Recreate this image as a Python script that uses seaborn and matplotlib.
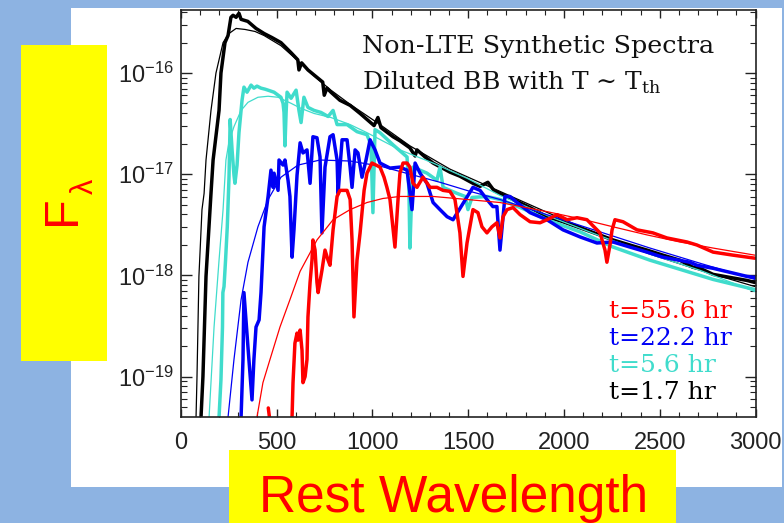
import numpy as np
import matplotlib
matplotlib.use("Agg")
import matplotlib.pyplot as plt
import seaborn as sns
from matplotlib.patches import Rectangle
from matplotlib.ticker import MultipleLocator, FixedLocator, NullFormatter, LogFormatterSciNotation

# ---------------- data: (rest wavelength [A], log10 F_lambda) ----------------
black_spec = [(106,-19.40),(116,-19.00),(132,-18.01),(158,-17.19),(169,-16.86),(200,-16.37),(210,-16.00),
              (231,-15.70),(247,-15.63),(262,-15.45),(273,-15.43),(289,-15.45),(304,-15.41),(315,-15.47),
              (350,-15.49),(393,-15.56),(435,-15.61),(476,-15.65),(523,-15.70),(576,-15.80),(611,-15.87),
              (617,-15.97),(631,-15.90),(664,-15.97),(696,-16.02),(741,-16.09),(749,-16.22),(763,-16.15),
              (784,-16.19),(831,-16.27),(884,-16.32),(936,-16.40),(1009,-16.52),(1029,-16.44),(1045,-16.54),
              (1108,-16.63),(1144,-16.67),(1196,-16.74),(1223,-16.82),(1233,-16.76),(1275,-16.83),(1317,-16.89),
              (1405,-16.98),(1457,-17.02),(1525,-17.09),(1562,-17.12),(1603,-17.08),(1634,-17.16),(1666,-17.19),
              (1734,-17.25),(1823,-17.33),(1911,-17.42),(1995,-17.47),(2084,-17.53),(2172,-17.59),(2256,-17.65),
              (2344,-17.70),(2433,-17.75),(2516,-17.80),(2605,-17.85),(2673,-17.92),(2710,-17.93),(2778,-17.99),
              (2866,-18.02),(2955,-18.05),(2996,-18.07)]
black_bb = [(80,-19.40),(85,-19.00),(95,-18.01),(111,-17.35),(122,-17.19),(132,-16.86),(158,-16.37),(184,-16.00),
            (221,-15.70),(252,-15.61),(289,-15.56),(336,-15.57),(388,-15.59),(435,-15.63),(523,-15.73),(612,-15.88),
            (696,-16.03),(784,-16.17),(884,-16.31),(1040,-16.51),(1196,-16.72),(1405,-16.95),(1666,-17.17),
            (1927,-17.39),(2188,-17.60),(2449,-17.79),(2710,-17.95),(2996,-18.11)]

cyan_spec = [(200,-19.40),(210,-19.03),(218,-18.51),(220,-18.17),(226,-18.11),(234,-17.85),(243,-17.52),(252,-17.03),
             (258,-16.46),(268,-16.76),(278,-17.01),(283,-17.09),(294,-16.91),(304,-16.59),(320,-16.27),(330,-16.14),
             (346,-16.19),(367,-16.12),(382,-16.15),(398,-16.13),(419,-16.15),(440,-16.16),(456,-16.17),(487,-16.19),
             (523,-16.24),(534,-16.30),(539,-16.39),(544,-16.72),(550,-16.39),(555,-16.19),(576,-16.25),(602,-16.17),
             (617,-16.37),(628,-16.49),(643,-16.24),(664,-16.34),(696,-16.37),(732,-16.39),(769,-16.43),(795,-16.37),
             (816,-16.51),(868,-16.51),(920,-16.58),(972,-16.61),(993,-16.71),(1003,-17.38),(1014,-16.56),
             (1040,-16.59),(1108,-16.71),(1181,-16.83),(1191,-17.16),(1196,-17.73),(1207,-17.11),(1212,-16.93),
             (1285,-16.99),(1337,-17.06),(1353,-16.93),(1369,-17.13),(1442,-17.19),(1484,-17.22),(1499,-17.35),
             (1520,-17.23),(1598,-17.22),(1666,-17.25),(1734,-17.30),(1823,-17.37),(1911,-17.45),(2084,-17.57),
             (2256,-17.72),(2449,-17.85),(2605,-17.94),(2778,-18.04),(2996,-18.14)]
cyan_bb = [(148,-19.40),(174,-18.51),(200,-17.85),(221,-17.35),(236,-16.86),(252,-16.68),(278,-16.53),(315,-16.37),
           (351,-16.29),(403,-16.24),(456,-16.23),(508,-16.24),(576,-16.30),(628,-16.35),(696,-16.40),(784,-16.44),
           (884,-16.51),(972,-16.59),(1144,-16.76),(1317,-16.89),(1494,-17.04),(1666,-17.21),(1927,-17.42),
           (2188,-17.61),(2449,-17.79),(2710,-17.95),(2996,-18.16)]

blue_spec = [(315,-19.40),(325,-18.83),(330,-18.17),(351,-18.71),(372,-19.23),(382,-18.83),(393,-18.51),(409,-18.44),
             (419,-18.17),(435,-17.52),(456,-17.22),(471,-16.96),(482,-17.13),(487,-16.99),(508,-17.16),(513,-16.86),
             (534,-16.91),(544,-16.86),(560,-17.06),(570,-17.22),(581,-17.82),(591,-17.55),(607,-17.01),(623,-16.69),
             (638,-16.79),(659,-16.76),(675,-17.09),(690,-16.63),(711,-16.64),(727,-16.83),(737,-17.58),(753,-16.93),
             (779,-16.63),(795,-16.61),(816,-16.86),(821,-17.19),(842,-16.66),(868,-16.66),(884,-16.93),(894,-17.13),
             (910,-16.76),(925,-16.79),(946,-17.03),(967,-16.86),(988,-16.66),(1014,-16.76),(1040,-16.89),
             (1092,-16.94),(1144,-16.93),(1181,-16.96),(1207,-17.35),(1223,-16.89),(1249,-16.99),(1285,-17.09),
             (1317,-17.28),(1353,-17.35),(1390,-17.42),(1421,-17.45),(1447,-17.37),(1525,-17.13),(1562,-17.16),
             (1598,-17.25),(1629,-17.32),(1650,-17.32),(1666,-17.75),(1692,-17.22),(1718,-17.22),(1755,-17.28),
             (1823,-17.38),(1911,-17.45),(1995,-17.55),(2084,-17.62),(2172,-17.68),(2256,-17.67),(2344,-17.72),
             (2433,-17.77),(2516,-17.82),(2657,-17.87),(2694,-17.90),(2778,-17.93),(2955,-18.01),(2996,-18.02)]
blue_bb = [(247,-19.40),(278,-18.83),(315,-18.24),(351,-17.87),(403,-17.52),(456,-17.25),(523,-17.03),(612,-16.91),
           (727,-16.86),(884,-16.87),(1040,-16.92),(1196,-17.00),(1353,-17.08),(1510,-17.17),(1666,-17.25),
           (1927,-17.41),(2188,-17.57),(2449,-17.73),(2710,-17.88),(2996,-18.04)]

red_spec = [(581,-19.40),(586,-19.06),(596,-18.67),(607,-18.57),(612,-18.64),(623,-18.54),(633,-18.74),(638,-19.06),
            (649,-19.00),(659,-18.83),(664,-18.41),(675,-18.07),(685,-17.85),(690,-17.65),(701,-17.75),(711,-18.07),
            (717,-18.17),(737,-17.95),(753,-17.75),(769,-17.85),(779,-17.90),(795,-17.55),(816,-17.22),(831,-17.16),
            (868,-17.16),(884,-17.25),(894,-17.65),(904,-18.41),(920,-17.85),(936,-17.58),(957,-17.16),(972,-16.99),
            (998,-16.89),(1040,-16.93),(1061,-17.03),(1076,-17.13),(1092,-17.25),(1118,-17.72),(1134,-17.25),
            (1144,-16.99),(1160,-16.89),(1181,-16.89),(1196,-16.93),(1212,-17.09),(1233,-17.13),(1264,-17.03),
            (1301,-17.13),(1337,-17.13),(1369,-17.16),(1405,-17.17),(1431,-17.25),(1457,-17.58),(1473,-18.01),
            (1494,-17.68),(1525,-17.35),(1551,-17.38),(1572,-17.52),(1598,-17.58),(1624,-17.52),(1650,-17.48),
            (1666,-17.63),(1682,-17.42),(1703,-17.35),(1734,-17.33),(1771,-17.40),(1823,-17.47),(1875,-17.48),
            (1911,-17.45),(1964,-17.40),(2016,-17.45),(2068,-17.43),(2120,-17.45),(2188,-17.58),(2214,-17.75),
            (2224,-17.87),(2240,-17.70),(2251,-17.55),(2266,-17.45),(2308,-17.47),(2381,-17.55),(2464,-17.58),
            (2537,-17.63),(2642,-17.67),(2694,-17.70),(2778,-17.77),(2882,-17.80),(2996,-17.83)]
red_stub = [(457,-19.31),(463,-19.40)]
red_bb = [(398,-19.40),(429,-19.06),(466,-18.83),(518,-18.51),(570,-18.24),(623,-17.96),(711,-17.65),(795,-17.45),
          (884,-17.35),(972,-17.28),(1055,-17.24),(1144,-17.22),(1317,-17.22),(1494,-17.25),(1666,-17.28),
          (1911,-17.37),(2084,-17.44),(2256,-17.52),(2433,-17.60),(2605,-17.67),(2778,-17.73),(2996,-17.80)]

epochs = ["t=55.6 hr", "t=22.2 hr", "t=5.6 hr", "t=1.7 hr"]
colors = ["#FF0000", "#0000F5", "#40DCCC", "#000000"]
y_major = [1e-19, 1e-18, 1e-17, 1e-16]

# ---------------- figure ----------------
sns.set_theme(style="white")
plt.rcParams["font.family"] = ["Liberation Sans", "DejaVu Sans"]
plt.rcParams["mathtext.fontset"] = "custom"
plt.rcParams["mathtext.rm"] = "DejaVu Serif"

fig = plt.figure(figsize=(7.84, 5.23), dpi=100)
fig.patch.set_facecolor("#8DB3E2")
fig.add_artist(Rectangle((0.0906, 0.0688), 0.9068, 0.9159, facecolor="white", edgecolor="none", zorder=-1))

ax = fig.add_axes([0.2305, 0.2033, 0.7333, 0.7785])
ax.set_facecolor("white")
ax.set_yscale("log")


def draw(pairs, color, lw):
    wl = [p[0] for p in pairs]
    fl = [10.0 ** p[1] for p in pairs]
    sns.lineplot(x=wl, y=fl, ax=ax, color=color, lw=lw, sort=False, estimator=None, legend=False)


for spec, bb, c in [(black_spec, black_bb, colors[3]), (cyan_spec, cyan_bb, colors[2]),
                    (blue_spec, blue_bb, colors[1]), (red_spec, red_bb, colors[0])]:
    draw(spec, c, 2.5)
    draw(bb, c, 0.9)
draw(red_stub, colors[0], 2.5)

ax.set_xlim(0, 3000)
ax.set_ylim(10 ** -19.396, 10 ** -15.373)
ax.set_xlabel("")
ax.set_ylabel("")
ax.xaxis.set_major_locator(MultipleLocator(500))
ax.xaxis.set_minor_locator(MultipleLocator(100))
minor_y = [m * d for d in [1e-20, 1e-19, 1e-18, 1e-17, 1e-16] for m in range(2, 10)]
minor_y = [v for v in minor_y if 10 ** -19.396 < v < 10 ** -15.373]
ax.yaxis.set_major_locator(FixedLocator(y_major))
ax.yaxis.set_major_formatter(LogFormatterSciNotation())
ax.yaxis.set_minor_locator(FixedLocator(minor_y))
ax.yaxis.set_minor_formatter(NullFormatter())

ax.tick_params(axis="both", which="both", direction="in", bottom=True, left=True, top=True, right=True,
               colors="#222222")
ax.tick_params(axis="x", which="major", length=6, width=1.0, pad=11, labelsize=17)
ax.tick_params(axis="x", which="minor", length=3.5, width=0.8)
ax.tick_params(axis="y", which="major", length=8, width=1.0, pad=5, labelsize=17)
ax.tick_params(axis="y", which="minor", length=4.5, width=0.8)
for s in ax.spines.values():
    s.set_linewidth(1.2)
    s.set_color("#222222")

serif = "DejaVu Serif"
ax.text(0.3154, 0.894, "Non-LTE Synthetic Spectra", transform=ax.transAxes, fontsize=18.3,
        family=serif, color="#111111", ha="left", va="baseline")
ax.text(0.3154, 0.802, "Diluted BB with T \u223c T$_{\\rm th}$", transform=ax.transAxes, fontsize=18,
        family=serif, color="#111111", ha="left", va="baseline")
legend_y = [0.2424, 0.176, 0.1105, 0.0435]
for lab, c, yy in zip(epochs, colors, legend_y):
    ax.text(0.745, yy, lab, transform=ax.transAxes, fontsize=18, family=serif, color=c,
            ha="left", va="baseline")

# yellow label boxes
fig.add_artist(Rectangle((0.0268, 0.3098), 0.1097, 0.6042, facecolor="#FFFF00", edgecolor="none", zorder=5))
fig.add_artist(Rectangle((0.2921, 0.0), 0.5701, 0.1396, facecolor="#FFFF00", edgecolor="none", zorder=5))
fig.text(62.5 / 784, 1 - 210 / 523, "F", rotation=90, fontsize=35, color="#FF0000",
         ha="center", va="center", family="Liberation Sans", zorder=6)
fig.text(84.5 / 784, 1 - 186.5 / 523, "\u03bb", rotation=90, fontsize=22, color="#FF0000",
         ha="center", va="center", family="Liberation Sans", zorder=6)
fig.text(0.579, 0.021, "Rest Wavelength", fontsize=37, color="#FF0000", ha="center", va="baseline",
         family="Liberation Sans", zorder=6)

fig.savefig("out.png", dpi=100, facecolor=fig.get_facecolor())
